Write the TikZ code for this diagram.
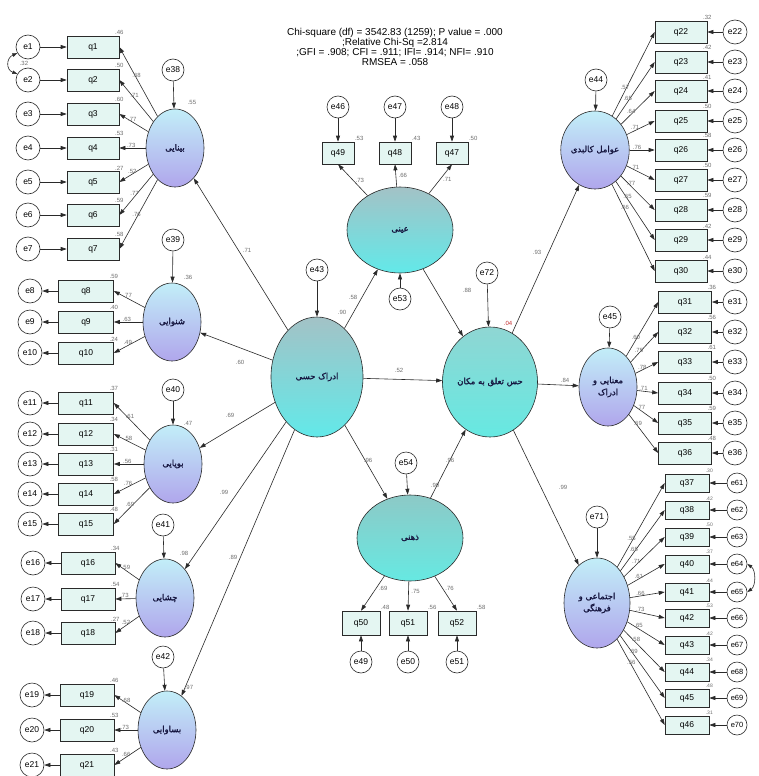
\documentclass[tikz,border=0pt]{standalone}
\usepackage{fontspec}
\setmainfont{Liberation Sans}
\newfontfamily\fafont[Script=Arabic,FakeBold=1.5]{DejaVu Sans}
\TeXXeTstate=1
\usetikzlibrary{shapes.geometric,arrows.meta}
\definecolor{boxfill}{HTML}{E4F6F2}
\definecolor{lineclr}{HTML}{2A2A2A}
\definecolor{fotop}{HTML}{C2EEF8}
\definecolor{fobot}{HTML}{B0A6EC}
\definecolor{cytop}{HTML}{A3C2C6}
\definecolor{cybot}{HTML}{62E9E9}
\definecolor{bltop}{HTML}{8FD6D3}
\definecolor{blbot}{HTML}{66E9E2}
\definecolor{txtnavy}{HTML}{15153F}
\definecolor{lblgray}{HTML}{6E6E6E}
\newcommand{\fatext}[1]{{\fafont\beginR #1\endR}}
\tikzset{
  ind/.style={draw=lineclr, fill=boxfill, line width=0.6pt, minimum width=52pt, minimum height=22pt, inner sep=0pt, font=\fontsize{8.5}{9}\selectfont},
  err/.style={draw=lineclr, fill=white, circle, line width=0.6pt, minimum size=24pt, inner sep=0pt, font=\fontsize{8.5}{9}\selectfont},
  lat/.style={draw=lineclr, ellipse, line width=0.6pt, inner sep=0pt, text=txtnavy, align=center, font=\fontsize{8.5}{12}\selectfont},
  fo/.style={lat, minimum width=58pt, minimum height=78pt, top color=fotop, bottom color=fobot},
  cy/.style={lat, top color=cytop, bottom color=cybot},
  arr/.style={draw=lineclr, line width=0.6pt, -{Triangle[length=6pt,width=4pt]}},
  cov/.style={draw=lineclr, line width=0.6pt, {Triangle[length=5pt,width=3.5pt]}-{Triangle[length=5pt,width=3.5pt]}},
  lbl/.style={font=\fontsize{6}{6}\selectfont, text=lblgray, inner sep=0.5pt},
}
\begin{document}
\begin{tikzpicture}[x=1pt,y=-1pt]
\fill[white] (0,0) rectangle (758,776);
\useasboundingbox (0,0) rectangle (758,776);

% header
\node[font=\fontsize{10}{10}\selectfont, align=center, inner sep=0pt] (hdr) at (395,47)
 {Chi-square (df) = 3542.83 (1259); P value = .000\\;Relative Chi-Sq =2.814\\;GFI = .908; CFI = .911; IFI= .914; NFI= .910\\RMSEA = .058};

% latent variables
\node[fo] (vis) at (175,148) {\fatext{بینایی}};
\node[fo] (hear) at (172,322) {\fatext{شنوایی}};
\node[fo] (smell) at (173,464) {\fatext{بویایی}};
\node[fo] (taste) at (165,598) {\fatext{چشایی}};
\node[fo] (touch) at (167,730) {\fatext{بساوایی}};
\node[cy, minimum width=92pt, minimum height=120pt] (perc) at (317,377) {\fatext{ادراک حسی}};
\node[cy, minimum width=106pt, minimum height=86pt] (obj) at (400,230) {\fatext{عینی}};
\node[cy, minimum width=95pt, minimum height=110pt, top color=bltop, bottom color=blbot] (belong) at (490,382) {\fatext{حس تعلق به مکان}};
\node[cy, minimum width=106pt, minimum height=86pt, top color=bltop!85!gray, bottom color=blbot] (subj) at (410,538) {\fatext{ذهنی}};
\node[fo] (phys) at (595,150) {\fatext{عوامل کالبدی}};
\node[fo] (sem) at (608,387) {\fatext{معنایی و}\\\fatext{ادراک}};
\node[fo, minimum width=66pt, minimum height=90pt] (soc) at (597,603) {\fatext{اجتماعی و}\\\fatext{فرهنگی}};

% residuals of latents
\foreach \n/\x/\y/\t in {e38/173/70/vis, e39/173/240/hear, e40/173/390/smell, e41/163/525/taste, e42/163/657/touch, e43/317/270/perc, e72/487/273/belong, e54/406/463/subj, e44/596/80/phys, e45/610/317/sem, e71/597/517/soc}{
  \node[err, minimum size=22pt] (\n) at (\x,\y) {\n};
  \draw[arr] (\n) -- (\t);
}
\node[err, minimum size=22pt] (e53) at (400,299) {e53};
\draw[arr] (e53) -- (obj);

% group 1: vision
\foreach \i/\y/\LD/\RS in {1/47/.68/.46, 2/80/.71/.50, 3/114/.77/.60, 4/148/.73/.53, 5/182/.52/.27, 6/215/.77/.59, 7/249/.76/.58}{
  \node[ind] (q\i) at (93,\y) {q\i};
  \node[err] (e\i) at (28,\y) {e\i};
  \draw[arr] (e\i) -- (q\i);
  \draw[arr] (vis) -- (q\i.east) node[lbl,pos=0.55,above] {\LD};
  \node[lbl,anchor=south] at (q\i.north east) {\RS};
}
\draw[cov] (e1.210) .. controls (6,58) and (6,70) .. (e2.150);
\node[lbl] (c12) at (24,63) {.32};

% group 2: hearing
\foreach \i/\y/\LD/\RS in {8/291/.77/.59, 9/322/.63/.40, 10/353/.49/.24}{
  \node[ind, minimum width=55pt] (q\i) at (86,\y) {q\i};
  \node[err] (e\i) at (30,\y) {e\i};
  \draw[arr] (q\i) -- (e\i);
  \draw[arr] (hear) -- (q\i.east) node[lbl,pos=0.55,above] {\LD};
  \node[lbl,anchor=south] at (q\i.north east) {\RS};
}

% group 3: smell
\foreach \i/\y/\LD/\RS in {11/403/.61/.37, 12/434/.58/.34, 13/464/.56/.31, 14/494/.76/.58, 15/524/.69/.48}{
  \node[ind, minimum width=55pt] (q\i) at (86,\y) {q\i};
  \node[err] (e\i) at (30,\y) {e\i};
  \draw[arr] (q\i) -- (e\i);
  \draw[arr] (smell) -- (q\i.east) node[lbl,pos=0.55,above] {\LD};
  \node[lbl,anchor=south] at (q\i.north east) {\RS};
}

% group 4: taste
\foreach \i/\y/\LD/\RS in {16/563/.59/.34, 17/599/.73/.54, 18/633/.52/.27}{
  \node[ind, minimum width=54pt] (q\i) at (88,\y) {q\i};
  \node[err] (e\i) at (33,\y) {e\i};
  \draw[arr] (q\i) -- (e\i);
  \draw[arr] (taste) -- (q\i.east) node[lbl,pos=0.55,above] {\LD};
  \node[lbl,anchor=south] at (q\i.north east) {\RS};
}

% group 5: touch
\foreach \i/\y/\LD/\RS in {19/695/.68/.46, 20/730/.73/.53, 21/765/.66/.43}{
  \node[ind, minimum width=54pt] (q\i) at (87,\y) {q\i};
  \node[err] (e\i) at (32,\y) {e\i};
  \draw[arr] (q\i) -- (e\i);
  \draw[arr] (touch) -- (q\i.east) node[lbl,pos=0.55,above] {\LD};
  \node[lbl,anchor=south] at (q\i.north east) {\RS};
}

% objective indicators
\foreach \i/\j/\x/\LD/\RS in {49/46/338/.73/.53, 48/47/395/.66/.43, 47/48/452/.71/.50}{
  \node[ind, minimum width=32pt] (q\i) at (\x,153) {q\i};
  \node[err, minimum size=22pt] (e\j) at (\x,107) {e\j};
  \draw[arr] (e\j) -- (q\i);
  \draw[arr] (obj) -- (q\i.south) node[lbl,pos=0.5,right=2pt] {\LD};
  \node[lbl,anchor=south west] at (q\i.north east) {\RS};
}

% subjective indicators
\foreach \i/\j/\x/\LD/\RS in {50/49/361/.69/.48, 51/50/408/.75/.56, 52/51/457/.76/.58}{
  \node[ind, minimum width=38pt, minimum height=24pt] (q\i) at (\x,623) {q\i};
  \node[err, minimum size=22pt] (e\j) at (\x,662) {e\j};
  \draw[arr] (e\j) -- (q\i);
  \draw[arr] (subj) -- (q\i.north) node[lbl,pos=0.35,right=2pt] {\LD};
  \node[lbl,anchor=south west] at (q\i.north east) {\RS};
}

% physical factors
\foreach \i/\y/\LD/\RS in {22/32/.57/.32, 23/62/.65/.42, 24/91/.64/.41, 25/121/.71/.50, 26/150/.76/.58, 27/180/.71/.50, 28/210/.77/.59, 29/240/.65/.42, 30/271/.66/.44}{
  \node[ind] (q\i) at (681,\y) {q\i};
  \node[err] (e\i) at (735,\y) {e\i};
  \draw[arr] (e\i) -- (q\i);
  \draw[arr] (phys) -- (q\i.west) node[lbl,pos=0.3,above] {\LD};
  \node[lbl,anchor=south] at (q\i.north east) {\RS};
}

% semantic
\foreach \i/\y/\LD/\RS in {31/302/.60/.36, 32/332/.75/.56, 33/362/.78/.61, 34/393/.71/.50, 35/423/.77/.59, 36/453/.69/.48}{
  \node[ind, minimum width=53pt] (q\i) at (685,\y) {q\i};
  \node[err] (e\i) at (735,\y) {e\i};
  \draw[arr] (e\i) -- (q\i);
  \draw[arr] (sem) -- (q\i.west) node[lbl,pos=0.3,above] {\LD};
  \node[lbl,anchor=south] at (q\i.north east) {\RS};
}

% social-cultural
\foreach \i/\j/\y/\LD/\RS in {37/61/483/.55/.30, 38/62/510/.65/.42, 39/63/537/.71/.50, 40/64/564/.61/.37, 41/65/592/.66/.44, 42/66/618/.73/.53, 43/67/645/.65/.42, 44/68/672/.58/.34, 45/69/698/.69/.48, 46/70/725/.56/.31}{
  \node[ind, minimum width=44pt, minimum height=18pt] (q\i) at (687,\y) {q\i};
  \node[err, minimum size=20pt, font=\fontsize{7.5}{8}\selectfont] (e\j) at (737,\y) {e\j};
  \draw[arr] (e\j) -- (q\i);
  \draw[arr] (soc) -- (q\i.west) node[lbl,pos=0.3,above] {\LD};
  \node[lbl,anchor=south, font=\fontsize{5}{5}\selectfont] at (q\i.north east) {\RS};
}
\draw[cov] (e64.east) .. controls (756,570) and (756,586) .. (e65.east);

% structural paths
\draw[arr] (perc) -- (vis);
\draw[arr] (perc) -- (hear);
\draw[arr] (perc) -- (smell);
\draw[arr] (perc) -- (taste);
\draw[arr] (perc) -- (touch);
\draw[arr] (perc) -- (obj);
\draw[arr] (perc) -- (belong);
\draw[arr] (perc) -- (subj);
\draw[arr] (obj) -- (belong);
\draw[arr] (subj) -- (belong);
\draw[arr] (belong) -- (phys);
\draw[arr] (belong) -- (sem);
\draw[arr] (belong) -- (soc);

% path labels
\node[lbl] (l1) at (247,250) {.71};
\node[lbl] (l2) at (240,362) {.60};
\node[lbl] (l3) at (230,415) {.69};
\node[lbl] (l4) at (224,492) {.99};
\node[lbl] (l5) at (233,557) {.89};
\node[lbl] (l6) at (353,297) {.58};
\node[lbl] (l7) at (342,312) {.90};
\node[lbl] (l8) at (399,370) {.52};
\node[lbl] (l9) at (368,460) {.96};
\node[lbl] (l10) at (467,290) {.88};
\node[lbl] (l11) at (450,460) {.96};
\node[lbl] (l12) at (435,485) {.90};
\node[lbl] (l13) at (537,252) {.93};
\node[lbl, text=red!60!lblgray] (l14) at (508,323) {.04};
\node[lbl] (l15) at (565,380) {.84};
\node[lbl] (l16) at (563,487) {.99};
\node[lbl] (r1) at (192,102) {.55};
\node[lbl] (r2) at (188,277) {.36};
\node[lbl] (r3) at (188,423) {.47};
\node[lbl] (r4) at (184,553) {.98};
\node[lbl] (r5) at (189,687) {.97};
\end{tikzpicture}
\end{document}
